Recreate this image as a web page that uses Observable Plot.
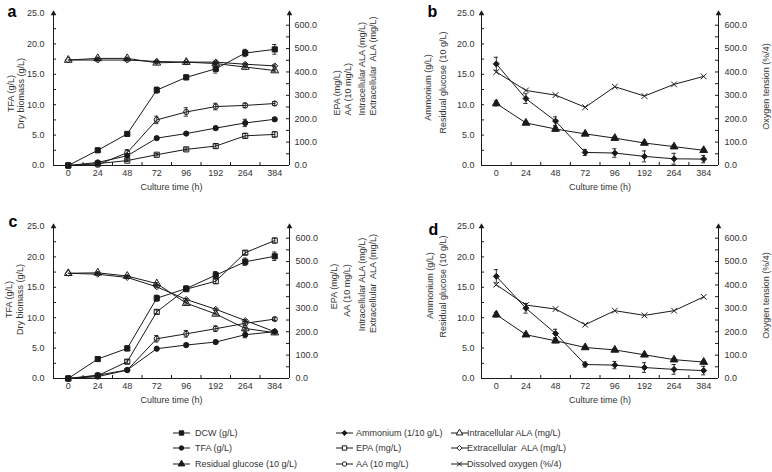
<!DOCTYPE html>
<html><head><meta charset="utf-8">
<script src="https://cdn.jsdelivr.net/npm/d3@7"></script>
<script src="https://cdn.jsdelivr.net/npm/@observablehq/plot@0.6"></script>
<style>
body{margin:0;background:#fff;}
#root{position:relative;width:772px;height:472px;overflow:hidden;font-family:"Liberation Sans",Arial,sans-serif;background:#fff;}
#root svg{position:absolute;overflow:visible;}
.lt{position:absolute;font-size:9px;line-height:12px;color:#333;white-space:pre;}
</style></head><body><div id="root"></div><script>
// ---- data ----
const times = ["0","24","48","72","96","192","264","384"];
const leftTicks = [0,5,10,15,20,25];
const rightTicks = [0,100,200,300,400,500,600];

// panel a (left axis g/L, right axis mg/L units)
const aDCW = [0,2.5,5.2,12.4,14.5,15.9,18.5,19.1];
const aDCWsd = [0,0.3,0.3,0.5,0.4,0.7,0.6,0.8];
const aTFA = [0,0.5,1.6,4.5,5.25,6.15,7.0,7.6];
const aTFAsd = [0,0.1,0.2,0.2,0.2,0.3,0.6,0.3];
const aEPA = [0,8,21,46,69,83,127,133];
const aEPAsd = [0,3,4,5,6,9,10,12];
const aAA = [0,3,55,195,229,252,257,265];
const aAAsd = [0,3,13,16,18,14,10,8];
const aIntraALA = [451,458,458,439,442,436,421,406];
const aIntraALAsd = [0,5,5,4,3,4,4,5];
const aExtraALA = [451,451,451,445,442,442,433,426];
const aExtraALAsd = [0,4,4,3,3,4,4,4];

// panel b
const bAmm = [16.7,11.0,7.3,2.15,2.05,1.5,1.1,1.05];
const bAmmsd = [1.1,0.8,0.7,0.5,0.7,0.9,0.9,0.6];
const bGlu = [10.2,7.0,6.0,5.2,4.5,3.7,3.1,2.5];
const bGlusd = [0.4,0.25,0.35,0.2,0.2,0.2,0.2,0.2];
const bDO = [400,321,301,249,337,297,347,381];

// panel c
const cDCW = [0,3.2,4.95,13.2,14.8,17.0,19.2,20.1];
const cDCWsd = [0,0.3,0.4,0.5,0.4,0.6,0.6,0.7];
const cTFA = [0,0.55,1.4,4.9,5.5,6.0,7.2,7.7];
const cTFAsd = [0,0.1,0.2,0.2,0.3,0.3,0.5,0.3];
const cEPA = [0,12,72,285,382,416,538,590];
const cEPAsd = [0,3,8,8,8,10,8,10];
const cAA = [0,8,36,170,191,213,236,254];
const cAAsd = [0,3,6,14,14,12,10,6];
const cIntraALA = [450,452,438,406,322,276,214,196];
const cIntraALAsd = [0,4,4,4,4,4,4,4];
const cExtraALA = [450,446,432,392,338,296,248,200];
const cExtraALAsd = [0,4,4,4,4,4,4,4];

// panel d
const dAmm = [16.8,11.55,7.4,2.3,2.2,1.8,1.5,1.3];
const dAmmsd = [1.1,0.8,0.7,0.4,0.6,0.8,0.8,0.7];
const dGlu = [10.5,7.2,6.2,5.1,4.7,3.9,3.1,2.7];
const dGlusd = [0.4,0.2,0.3,0.2,0.2,0.2,0.2,0.2];
const dDO = [401,314,297,230,290,270,290,349];

const legendCols = [
  [["DCW (g/L)","square",true],["TFA (g/L)","circle",true],["Residual glucose (10 g/L)","triangle",true]],
  [["Ammonium (1/10 g/L)","diamond2",true],["EPA (mg/L)","square",false],["AA (10 mg/L)","circle",false]],
  [["Intracellular ALA (mg/L)","triangle",false],["Extracellular  ALA (mg/L)","diamond2",false],["Dissolved oxygen (%/4)","times",false]]
];

// ---- drawing ----
const INK = "#1a1a1a", TXT = "#333";
const STYLE = "font-family:'Liberation Sans',Arial,sans-serif;font-size:9px;background:transparent;overflow:visible;white-space:pre;color:#333;";
const SIZES = {square:2.9, circle:2.6, triangle:2.9, diamond2:2.7, times:2.7};

function series(vals, sds, symbol, filled) {
  const data = vals.map((v, i) => ({i, v, sd: sds ? sds[i] : 0}));
  const eb = data.filter(d => d.sd > 0);
  return [
    Plot.line(data, {x: "i", y: "v", stroke: INK, strokeWidth: 1}),
    Plot.ruleX(eb, {x: "i", y1: d => d.v - d.sd, y2: d => d.v + d.sd, stroke: INK, strokeWidth: 0.9}),
    Plot.ruleY(eb, {y: d => d.v - d.sd, x1: d => d.i - 0.07, x2: d => d.i + 0.07, stroke: INK, strokeWidth: 0.9}),
    Plot.ruleY(eb, {y: d => d.v + d.sd, x1: d => d.i - 0.07, x2: d => d.i + 0.07, stroke: INK, strokeWidth: 0.9}),
    Plot.dot(data, {x: "i", y: "v", symbol, r: SIZES[symbol], fill: filled ? INK : "none", stroke: INK, strokeWidth: 1})
  ];
}

function label(p, t, x, y, o = {}) {
  return Plot.text([t], {
    frameAnchor: "top-left", dx: x - p.fl, dy: y - p.ft, text: d => d,
    textAnchor: o.anchor || "middle", lineAnchor: o.line || "middle",
    rotate: o.rotate || 0, fontSize: o.size || 9, fontWeight: o.weight || "normal", fill: o.fill || TXT
  });
}

const panels = [
  {name:"a", ox:0, oy:0, W:386, H:200, fl:53, fr:289, ft:13, fb:165, lx:7, ly:16, lpad:9, rpad:5,
   left: [[aDCW,aDCWsd,"square",true],[aTFA,aTFAsd,"circle",true]],
   right: [[aIntraALA,aIntraALAsd,"triangle",false],[aExtraALA,aExtraALAsd,"diamond2",false],[aEPA,aEPAsd,"square",false],[aAA,aAAsd,"circle",false]],
   ltitles: [["TFA (g/L)",11,93,"middle"],["Dry biomass (g/L)",21,93,"middle"]],
   rtitles: [["EPA (mg/L)",337,115,"start"],["AA (10 mg/L)",348,115,"start"],["Intracellular ALA (mg/L)",362,115,"start"],["Extracellular  ALA (mg/L)",373,115,"start"]]},
  {name:"b", ox:386, oy:0, W:386, H:200, fl:481, fr:718, ft:13, fb:165, lx:427, ly:16, lpad:7, rpad:6,
   left: [[bGlu,bGlusd,"triangle",true],[bAmm,bAmmsd,"diamond2",true]],
   right: [[bDO,null,"times",false]],
   ltitles: [["Ammonium (g/L)",428,87,"middle"],["Residual glucose (10 g/L)",443,82,"middle"]],
   rtitles: [["Oxygen tension (%/4)",766,86,"middle"]]},
  {name:"c", ox:0, oy:200, W:386, H:215, fl:53, fr:289, ft:226, fb:378, lx:8, ly:226, lpad:9, rpad:6,
   left: [[cDCW,cDCWsd,"square",true],[cTFA,cTFAsd,"circle",true]],
   right: [[cIntraALA,cIntraALAsd,"triangle",false],[cExtraALA,cExtraALAsd,"diamond2",false],[cEPA,cEPAsd,"square",false],[cAA,cAAsd,"circle",false]],
   ltitles: [["TFA (g/L)",9,299,"middle"],["Dry biomass (g/L)",20,299,"middle"]],
   rtitles: [["EPA (mg/L)",334,286,"middle"],["AA (10 mg/L)",347,290,"middle"],["Intracellular ALA (mg/L)",362,284,"middle"],["Extracellular  ALA (mg/L)",373,283,"middle"]]},
  {name:"d", ox:386, oy:200, W:386, H:215, fl:481, fr:718, ft:226, fb:378, lx:428, ly:234, lpad:7, rpad:6,
   left: [[dGlu,dGlusd,"triangle",true],[dAmm,dAmmsd,"diamond2",true]],
   right: [[dDO,null,"times",false]],
   ltitles: [["Ammonium (g/L)",430,285,"middle"],["Residual glucose (10 g/L)",443,286,"middle"]],
   rtitles: [["Oxygen tension (%/4)",766,295,"middle"]]}
];

const root = document.getElementById("root");

for (const p of panels) {
  const fw = p.fr - p.fl, fh = p.fb - p.ft;
  const common = {
    width: p.W, height: p.H,
    marginLeft: p.fl - p.ox, marginRight: p.ox + p.W - p.fr,
    marginTop: p.ft - p.oy, marginBottom: p.oy + p.H - p.fb,
    style: STYLE
  };
  const L = Plot.plot({
    ...common,
    x: {type: "linear", domain: [-0.5, 7.5], label: null},
    y: {domain: [0, 25], label: null},
    marks: [
      Plot.ruleY([0], {stroke: INK}),
      Plot.ruleX([-0.5, 7.5], {stroke: INK}),
      Plot.ruleX(d3.range(0.5, 7, 1), {insetTop: fh - 3, stroke: INK}),
      Plot.ruleY(d3.range(2.5, 25, 2.5), {insetRight: fw - 3, stroke: INK}),
      Plot.dot([25], {x: () => -0.5, y: d => d, symbol: "triangle", r: 2.1, fill: INK, stroke: "none"}),
      Plot.dot([25], {x: () => 7.5, y: d => d, symbol: "triangle", r: 2.1, fill: INK, stroke: "none"}),
      Plot.axisY(leftTicks, {anchor: "left", tickSize: 0, tickPadding: p.lpad, tickFormat: d => d.toFixed(1), label: null, fill: TXT}),
      Plot.axisX(d3.range(times.length), {anchor: "bottom", tickSize: 0, tickPadding: 4, tickFormat: i => times[i], label: null, fill: TXT}),
      label(p, "Culture time (h)", (p.fl + p.fr) / 2, p.fb + 22),
      label(p, p.name, p.lx, p.ly, {anchor: "start", line: "bottom", size: 16, weight: "bold", fill: "#000"}),
      ...p.ltitles.map(([t, x, y, a]) => label(p, t, x, y, {rotate: -90, anchor: a})),
      ...p.left.flatMap(s => series(...s))
    ]
  });
  const R = Plot.plot({
    ...common,
    x: {type: "linear", domain: [-0.5, 7.5], label: null, axis: null},
    y: {domain: [0, 650], label: null},
    marks: [
      Plot.ruleY(d3.range(50, 650, 50), {insetLeft: fw - 3, stroke: INK}),
      Plot.axisY(rightTicks, {anchor: "right", tickSize: 0, tickPadding: p.rpad, tickFormat: d => d.toFixed(1), label: null, fill: TXT}),
      ...p.rtitles.map(([t, x, y, a]) => label(p, t, x, y, {rotate: -90, anchor: a})),
      ...p.right.flatMap(s => series(...s))
    ]
  });
  for (const s of [L, R]) {
    s.style.left = p.ox + "px";
    s.style.top = p.oy + "px";
    root.append(s);
  }
}

// legend
const symMap = {square: d3.symbolSquare, circle: d3.symbolCircle, triangle: d3.symbolTriangle, diamond2: d3.symbolDiamond2, times: d3.symbolTimes};
const colPos = [[173, 195], [336, 356], [451, 467]];
const rowY = [433, 448, 463.5];
legendCols.forEach((col, ci) => {
  col.forEach(([text, sym, filled], ri) => {
    const [sx, tx] = colPos[ci];
    const y = rowY[ri];
    const svg = d3.select(root).append("svg")
      .attr("width", 17).attr("height", 10)
      .style("left", sx + "px").style("top", (y - 5) + "px");
    svg.append("path").attr("d", "M0,5H17").attr("stroke", INK).attr("stroke-width", 1);
    const r = SIZES[sym] * 0.85;
    svg.append("path").attr("d", d3.symbol(symMap[sym], Math.PI * r * r)())
      .attr("transform", "translate(8.5,5)")
      .attr("fill", filled ? INK : (sym === "times" ? "none" : "#fff"))
      .attr("stroke", INK).attr("stroke-width", 1);
    d3.select(root).append("div").attr("class", "lt")
      .style("left", tx + "px").style("top", (y - 6) + "px").text(text);
  });
});
</script></body></html>
